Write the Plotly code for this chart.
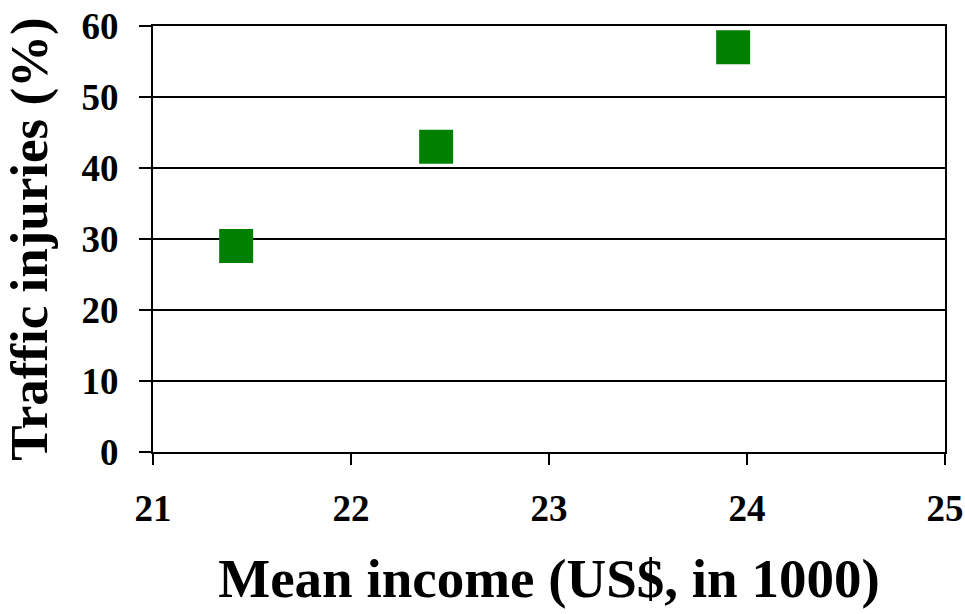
import plotly.graph_objects as go

income = [21.42, 22.43, 23.93]
injuries = [29, 43, 57]
x_ticks = [21, 22, 23, 24, 25]
y_ticks = [0, 10, 20, 30, 40, 50, 60]

FONT = "Liberation Serif"

fig = go.Figure()
fig.add_trace(go.Scatter(
    x=income, y=injuries, mode="markers",
    marker=dict(symbol="square", size=34, color="#008000", line=dict(width=0)),
    showlegend=False, cliponaxis=False,
))

fig.update_layout(
    width=965, height=614,
    margin=dict(l=153, r=20, t=26, b=162, autoexpand=False),
    paper_bgcolor="white", plot_bgcolor="white",
    font=dict(family=FONT, color="black"),
)
fig.update_xaxes(
    range=[21, 25], tickvals=x_ticks, ticktext=[str(v) for v in x_ticks],
    showgrid=False, zeroline=False, automargin=False,
    showline=True, linecolor="black", linewidth=2, mirror=True,
    ticks="outside", ticklen=11, tickwidth=2, tickcolor="black",
    tickfont=dict(family=FONT, size=37, color="black", weight="bold"),
    ticklabelstandoff=12,
    title=dict(text="<b>Mean income (US$, in 1000)</b>",
               font=dict(family=FONT, size=55, color="black"), standoff=30),
)
fig.update_yaxes(
    range=[0, 60], tickvals=y_ticks, ticktext=[str(v) for v in y_ticks],
    showgrid=True, gridcolor="black", gridwidth=2, zeroline=False, automargin=False,
    showline=True, linecolor="black", linewidth=2, mirror=True,
    ticks="outside", ticklen=12, tickwidth=2, tickcolor="black",
    tickfont=dict(family=FONT, size=37, color="black", weight="bold"),
    ticklabelstandoff=13,
    title=dict(text="<b>Traffic injuries (%)</b>",
               font=dict(family=FONT, size=53, color="black"), standoff=18),
)

fig.write_html("out.html")
